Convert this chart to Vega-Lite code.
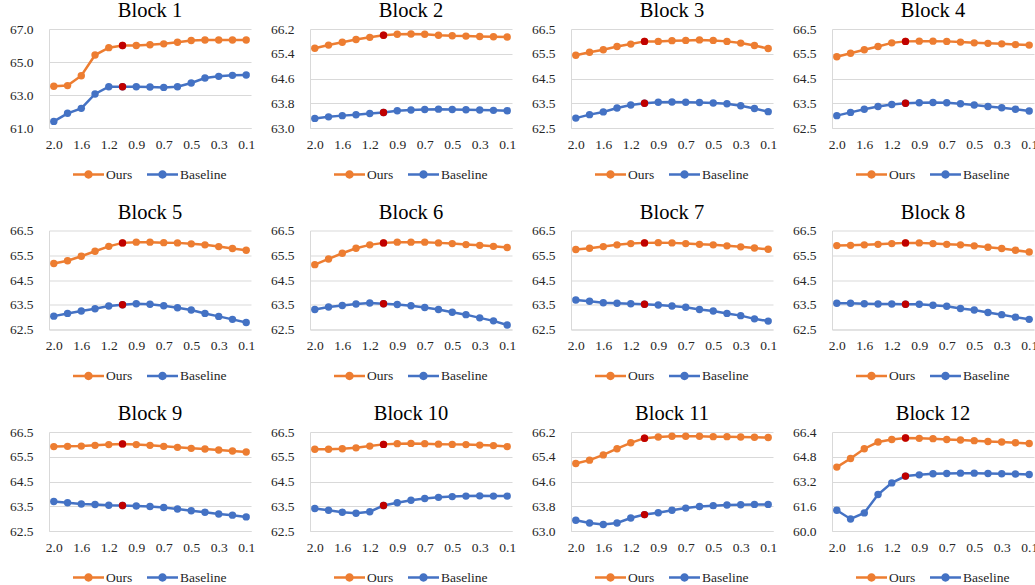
{
"$schema": "https://vega.github.io/schema/vega-lite/v6.json",
"padding": {"left": 9, "top": 1, "right": 0, "bottom": 0},
"background": "white",
"datasets": {"d": [
{"block":1,"x":"2.0","Ours":63.53,"Baseline":61.40},{"block":1,"x":"1.8","Ours":63.57,"Baseline":61.89},{"block":1,"x":"1.6","Ours":64.17,"Baseline":62.19},{"block":1,"x":"1.4","Ours":65.42,"Baseline":63.06},{"block":1,"x":"1.2","Ours":65.87,"Baseline":63.50},{"block":1,"x":"1.0","Ours":66.00,"Baseline":63.50},{"block":1,"x":"0.9","Ours":66.00,"Baseline":63.50},{"block":1,"x":"0.8","Ours":66.05,"Baseline":63.48},{"block":1,"x":"0.7","Ours":66.10,"Baseline":63.46},{"block":1,"x":"0.6","Ours":66.20,"Baseline":63.50},{"block":1,"x":"0.5","Ours":66.30,"Baseline":63.73},{"block":1,"x":"0.4","Ours":66.33,"Baseline":64.03},{"block":1,"x":"0.3","Ours":66.33,"Baseline":64.13},{"block":1,"x":"0.2","Ours":66.33,"Baseline":64.19},{"block":1,"x":"0.1","Ours":66.33,"Baseline":64.21},
{"block":2,"x":"2.0","Ours":65.58,"Baseline":63.31},{"block":2,"x":"1.8","Ours":65.68,"Baseline":63.36},{"block":2,"x":"1.6","Ours":65.77,"Baseline":63.40},{"block":2,"x":"1.4","Ours":65.86,"Baseline":63.43},{"block":2,"x":"1.2","Ours":65.93,"Baseline":63.47},{"block":2,"x":"1.0","Ours":66.00,"Baseline":63.50},{"block":2,"x":"0.9","Ours":66.03,"Baseline":63.56},{"block":2,"x":"0.8","Ours":66.04,"Baseline":63.58},{"block":2,"x":"0.7","Ours":66.03,"Baseline":63.60},{"block":2,"x":"0.6","Ours":66.00,"Baseline":63.61},{"block":2,"x":"0.5","Ours":65.98,"Baseline":63.60},{"block":2,"x":"0.4","Ours":65.97,"Baseline":63.59},{"block":2,"x":"0.3","Ours":65.96,"Baseline":63.58},{"block":2,"x":"0.2","Ours":65.95,"Baseline":63.57},{"block":2,"x":"0.1","Ours":65.94,"Baseline":63.56},
{"block":3,"x":"2.0","Ours":65.44,"Baseline":62.90},{"block":3,"x":"1.8","Ours":65.56,"Baseline":63.04},{"block":3,"x":"1.6","Ours":65.66,"Baseline":63.15},{"block":3,"x":"1.4","Ours":65.79,"Baseline":63.31},{"block":3,"x":"1.2","Ours":65.89,"Baseline":63.43},{"block":3,"x":"1.0","Ours":66.00,"Baseline":63.50},{"block":3,"x":"0.9","Ours":66.00,"Baseline":63.54},{"block":3,"x":"0.8","Ours":66.03,"Baseline":63.55},{"block":3,"x":"0.7","Ours":66.04,"Baseline":63.54},{"block":3,"x":"0.6","Ours":66.06,"Baseline":63.53},{"block":3,"x":"0.5","Ours":66.04,"Baseline":63.51},{"block":3,"x":"0.4","Ours":66.00,"Baseline":63.48},{"block":3,"x":"0.3","Ours":65.93,"Baseline":63.40},{"block":3,"x":"0.2","Ours":65.83,"Baseline":63.29},{"block":3,"x":"0.1","Ours":65.71,"Baseline":63.16},
{"block":4,"x":"2.0","Ours":65.38,"Baseline":63.00},{"block":4,"x":"1.8","Ours":65.52,"Baseline":63.13},{"block":4,"x":"1.6","Ours":65.66,"Baseline":63.26},{"block":4,"x":"1.4","Ours":65.79,"Baseline":63.37},{"block":4,"x":"1.2","Ours":65.94,"Baseline":63.45},{"block":4,"x":"1.0","Ours":66.00,"Baseline":63.50},{"block":4,"x":"0.9","Ours":66.01,"Baseline":63.52},{"block":4,"x":"0.8","Ours":66.01,"Baseline":63.53},{"block":4,"x":"0.7","Ours":66.00,"Baseline":63.52},{"block":4,"x":"0.6","Ours":65.97,"Baseline":63.48},{"block":4,"x":"0.5","Ours":65.94,"Baseline":63.43},{"block":4,"x":"0.4","Ours":65.92,"Baseline":63.37},{"block":4,"x":"0.3","Ours":65.90,"Baseline":63.32},{"block":4,"x":"0.2","Ours":65.87,"Baseline":63.26},{"block":4,"x":"0.1","Ours":65.85,"Baseline":63.19},
{"block":5,"x":"2.0","Ours":65.17,"Baseline":63.04},{"block":5,"x":"1.8","Ours":65.28,"Baseline":63.15},{"block":5,"x":"1.6","Ours":65.46,"Baseline":63.25},{"block":5,"x":"1.4","Ours":65.66,"Baseline":63.34},{"block":5,"x":"1.2","Ours":65.86,"Baseline":63.45},{"block":5,"x":"1.0","Ours":66.00,"Baseline":63.50},{"block":5,"x":"0.9","Ours":66.03,"Baseline":63.54},{"block":5,"x":"0.8","Ours":66.03,"Baseline":63.52},{"block":5,"x":"0.7","Ours":66.01,"Baseline":63.46},{"block":5,"x":"0.6","Ours":66.00,"Baseline":63.38},{"block":5,"x":"0.5","Ours":65.96,"Baseline":63.29},{"block":5,"x":"0.4","Ours":65.92,"Baseline":63.15},{"block":5,"x":"0.3","Ours":65.85,"Baseline":63.03},{"block":5,"x":"0.2","Ours":65.77,"Baseline":62.91},{"block":5,"x":"0.1","Ours":65.70,"Baseline":62.78},
{"block":6,"x":"2.0","Ours":65.12,"Baseline":63.31},{"block":6,"x":"1.8","Ours":65.35,"Baseline":63.41},{"block":6,"x":"1.6","Ours":65.58,"Baseline":63.47},{"block":6,"x":"1.4","Ours":65.78,"Baseline":63.53},{"block":6,"x":"1.2","Ours":65.92,"Baseline":63.57},{"block":6,"x":"1.0","Ours":66.00,"Baseline":63.54},{"block":6,"x":"0.9","Ours":66.03,"Baseline":63.51},{"block":6,"x":"0.8","Ours":66.03,"Baseline":63.46},{"block":6,"x":"0.7","Ours":66.03,"Baseline":63.39},{"block":6,"x":"0.6","Ours":66.00,"Baseline":63.31},{"block":6,"x":"0.5","Ours":65.97,"Baseline":63.20},{"block":6,"x":"0.4","Ours":65.93,"Baseline":63.10},{"block":6,"x":"0.3","Ours":65.90,"Baseline":62.97},{"block":6,"x":"0.2","Ours":65.86,"Baseline":62.85},{"block":6,"x":"0.1","Ours":65.81,"Baseline":62.68},
{"block":7,"x":"2.0","Ours":65.73,"Baseline":63.69},{"block":7,"x":"1.8","Ours":65.78,"Baseline":63.64},{"block":7,"x":"1.6","Ours":65.85,"Baseline":63.58},{"block":7,"x":"1.4","Ours":65.92,"Baseline":63.56},{"block":7,"x":"1.2","Ours":65.97,"Baseline":63.54},{"block":7,"x":"1.0","Ours":66.00,"Baseline":63.52},{"block":7,"x":"0.9","Ours":66.01,"Baseline":63.49},{"block":7,"x":"0.8","Ours":66.00,"Baseline":63.45},{"block":7,"x":"0.7","Ours":65.97,"Baseline":63.40},{"block":7,"x":"0.6","Ours":65.94,"Baseline":63.31},{"block":7,"x":"0.5","Ours":65.92,"Baseline":63.25},{"block":7,"x":"0.4","Ours":65.88,"Baseline":63.15},{"block":7,"x":"0.3","Ours":65.84,"Baseline":63.06},{"block":7,"x":"0.2","Ours":65.79,"Baseline":62.93},{"block":7,"x":"0.1","Ours":65.74,"Baseline":62.84},
{"block":8,"x":"2.0","Ours":65.89,"Baseline":63.56},{"block":8,"x":"1.8","Ours":65.90,"Baseline":63.56},{"block":8,"x":"1.6","Ours":65.92,"Baseline":63.54},{"block":8,"x":"1.4","Ours":65.94,"Baseline":63.53},{"block":8,"x":"1.2","Ours":65.97,"Baseline":63.53},{"block":8,"x":"1.0","Ours":66.00,"Baseline":63.52},{"block":8,"x":"0.9","Ours":66.00,"Baseline":63.52},{"block":8,"x":"0.8","Ours":65.97,"Baseline":63.48},{"block":8,"x":"0.7","Ours":65.94,"Baseline":63.44},{"block":8,"x":"0.6","Ours":65.92,"Baseline":63.35},{"block":8,"x":"0.5","Ours":65.88,"Baseline":63.29},{"block":8,"x":"0.4","Ours":65.82,"Baseline":63.19},{"block":8,"x":"0.3","Ours":65.77,"Baseline":63.10},{"block":8,"x":"0.2","Ours":65.70,"Baseline":63.00},{"block":8,"x":"0.1","Ours":65.63,"Baseline":62.91},
{"block":9,"x":"2.0","Ours":65.91,"Baseline":63.69},{"block":9,"x":"1.8","Ours":65.92,"Baseline":63.64},{"block":9,"x":"1.6","Ours":65.93,"Baseline":63.59},{"block":9,"x":"1.4","Ours":65.96,"Baseline":63.57},{"block":9,"x":"1.2","Ours":65.99,"Baseline":63.54},{"block":9,"x":"1.0","Ours":66.02,"Baseline":63.53},{"block":9,"x":"0.9","Ours":65.99,"Baseline":63.51},{"block":9,"x":"0.8","Ours":65.96,"Baseline":63.49},{"block":9,"x":"0.7","Ours":65.92,"Baseline":63.45},{"block":9,"x":"0.6","Ours":65.88,"Baseline":63.39},{"block":9,"x":"0.5","Ours":65.84,"Baseline":63.32},{"block":9,"x":"0.4","Ours":65.81,"Baseline":63.26},{"block":9,"x":"0.3","Ours":65.77,"Baseline":63.19},{"block":9,"x":"0.2","Ours":65.73,"Baseline":63.14},{"block":9,"x":"0.1","Ours":65.69,"Baseline":63.07},
{"block":10,"x":"2.0","Ours":65.80,"Baseline":63.41},{"block":10,"x":"1.8","Ours":65.80,"Baseline":63.34},{"block":10,"x":"1.6","Ours":65.82,"Baseline":63.26},{"block":10,"x":"1.4","Ours":65.86,"Baseline":63.22},{"block":10,"x":"1.2","Ours":65.93,"Baseline":63.28},{"block":10,"x":"1.0","Ours":66.00,"Baseline":63.53},{"block":10,"x":"0.9","Ours":66.03,"Baseline":63.64},{"block":10,"x":"0.8","Ours":66.04,"Baseline":63.74},{"block":10,"x":"0.7","Ours":66.03,"Baseline":63.81},{"block":10,"x":"0.6","Ours":66.01,"Baseline":63.86},{"block":10,"x":"0.5","Ours":66.00,"Baseline":63.89},{"block":10,"x":"0.4","Ours":65.99,"Baseline":63.91},{"block":10,"x":"0.3","Ours":65.97,"Baseline":63.92},{"block":10,"x":"0.2","Ours":65.95,"Baseline":63.91},{"block":10,"x":"0.1","Ours":65.91,"Baseline":63.91},
{"block":11,"x":"2.0","Ours":65.18,"Baseline":63.35},{"block":11,"x":"1.8","Ours":65.29,"Baseline":63.26},{"block":11,"x":"1.6","Ours":65.46,"Baseline":63.21},{"block":11,"x":"1.4","Ours":65.66,"Baseline":63.26},{"block":11,"x":"1.2","Ours":65.85,"Baseline":63.42},{"block":11,"x":"1.0","Ours":66.00,"Baseline":63.53},{"block":11,"x":"0.9","Ours":66.04,"Baseline":63.59},{"block":11,"x":"0.8","Ours":66.06,"Baseline":63.67},{"block":11,"x":"0.7","Ours":66.06,"Baseline":63.74},{"block":11,"x":"0.6","Ours":66.06,"Baseline":63.79},{"block":11,"x":"0.5","Ours":66.05,"Baseline":63.82},{"block":11,"x":"0.4","Ours":66.05,"Baseline":63.84},{"block":11,"x":"0.3","Ours":66.04,"Baseline":63.85},{"block":11,"x":"0.2","Ours":66.03,"Baseline":63.86},{"block":11,"x":"0.1","Ours":66.02,"Baseline":63.86},
{"block":12,"x":"2.0","Ours":64.13,"Baseline":61.34},{"block":12,"x":"1.8","Ours":64.69,"Baseline":60.78},{"block":12,"x":"1.6","Ours":65.32,"Baseline":61.17},{"block":12,"x":"1.4","Ours":65.75,"Baseline":62.36},{"block":12,"x":"1.2","Ours":65.92,"Baseline":63.11},{"block":12,"x":"1.0","Ours":66.01,"Baseline":63.55},{"block":12,"x":"0.9","Ours":65.99,"Baseline":63.63},{"block":12,"x":"0.8","Ours":65.97,"Baseline":63.70},{"block":12,"x":"0.7","Ours":65.92,"Baseline":63.72},{"block":12,"x":"0.6","Ours":65.88,"Baseline":63.74},{"block":12,"x":"0.5","Ours":65.84,"Baseline":63.74},{"block":12,"x":"0.4","Ours":65.79,"Baseline":63.72},{"block":12,"x":"0.3","Ours":65.75,"Baseline":63.70},{"block":12,"x":"0.2","Ours":65.71,"Baseline":63.68},{"block":12,"x":"0.1","Ours":65.66,"Baseline":63.65}
]},
"data": {"name": "d"},
"columns": 4,
"spacing": {"row": 21.5, "column": 15},
"resolve": {"scale": {"color": "independent", "y": "independent", "x": "independent"}},
"concat": [
{"title": "Block 1", "width": 202, "height": 99,
 "transform": [{"filter": "datum.block == 1"}, {"fold": ["Ours", "Baseline"], "as": ["series", "value"]}],
 "encoding": {
  "x": {"field": "x", "type": "ordinal", "scale": {"type": "point", "padding": 0.35, "domain": ["2.0","1.8","1.6","1.4","1.2","1.0","0.9","0.8","0.7","0.6","0.5","0.4","0.3","0.2","0.1"]}, "axis": {"values": ["2.0","1.6","1.2","0.9","0.7","0.5","0.3","0.1"], "title": null}},
  "y": {"field": "value", "type": "quantitative", "scale": {"domain": [61, 67], "nice": false, "zero": false}, "axis": {"values": [61, 63, 65, 67], "format": ".1f", "title": null}},
  "color": {"field": "series", "type": "nominal", "scale": {"domain": ["Ours", "Baseline"], "range": ["#ED7D31", "#4472C4"]}, "title": null}
 },
 "layer": [
  {"mark": {"type": "line", "strokeWidth": 2.5}},
  {"mark": {"type": "point", "filled": true, "size": 55, "opacity": 1}},
  {"transform": [{"filter": "datum.x == '1.0'"}], "mark": {"type": "point", "filled": true, "size": 55, "opacity": 1, "color": "#C00000"}, "encoding": {"color": {"value": "#C00000"}}}
 ]},
{"title": "Block 2", "width": 202, "height": 99,
 "transform": [{"filter": "datum.block == 2"}, {"fold": ["Ours", "Baseline"], "as": ["series", "value"]}],
 "encoding": {
  "x": {"field": "x", "type": "ordinal", "scale": {"type": "point", "padding": 0.35, "domain": ["2.0","1.8","1.6","1.4","1.2","1.0","0.9","0.8","0.7","0.6","0.5","0.4","0.3","0.2","0.1"]}, "axis": {"values": ["2.0","1.6","1.2","0.9","0.7","0.5","0.3","0.1"], "title": null}},
  "y": {"field": "value", "type": "quantitative", "scale": {"domain": [63, 66.2], "nice": false, "zero": false}, "axis": {"values": [63, 63.8, 64.6, 65.4, 66.2], "format": ".1f", "title": null}},
  "color": {"field": "series", "type": "nominal", "scale": {"domain": ["Ours", "Baseline"], "range": ["#ED7D31", "#4472C4"]}, "title": null}
 },
 "layer": [
  {"mark": {"type": "line", "strokeWidth": 2.5}},
  {"mark": {"type": "point", "filled": true, "size": 55, "opacity": 1}},
  {"transform": [{"filter": "datum.x == '1.0'"}], "mark": {"type": "point", "filled": true, "size": 55, "opacity": 1, "color": "#C00000"}, "encoding": {"color": {"value": "#C00000"}}}
 ]},
{"title": "Block 3", "width": 202, "height": 99,
 "transform": [{"filter": "datum.block == 3"}, {"fold": ["Ours", "Baseline"], "as": ["series", "value"]}],
 "encoding": {
  "x": {"field": "x", "type": "ordinal", "scale": {"type": "point", "padding": 0.35, "domain": ["2.0","1.8","1.6","1.4","1.2","1.0","0.9","0.8","0.7","0.6","0.5","0.4","0.3","0.2","0.1"]}, "axis": {"values": ["2.0","1.6","1.2","0.9","0.7","0.5","0.3","0.1"], "title": null}},
  "y": {"field": "value", "type": "quantitative", "scale": {"domain": [62.5, 66.5], "nice": false, "zero": false}, "axis": {"values": [62.5, 63.5, 64.5, 65.5, 66.5], "format": ".1f", "title": null}},
  "color": {"field": "series", "type": "nominal", "scale": {"domain": ["Ours", "Baseline"], "range": ["#ED7D31", "#4472C4"]}, "title": null}
 },
 "layer": [
  {"mark": {"type": "line", "strokeWidth": 2.5}},
  {"mark": {"type": "point", "filled": true, "size": 55, "opacity": 1}},
  {"transform": [{"filter": "datum.x == '1.0'"}], "mark": {"type": "point", "filled": true, "size": 55, "opacity": 1, "color": "#C00000"}, "encoding": {"color": {"value": "#C00000"}}}
 ]},
{"title": "Block 4", "width": 202, "height": 99,
 "transform": [{"filter": "datum.block == 4"}, {"fold": ["Ours", "Baseline"], "as": ["series", "value"]}],
 "encoding": {
  "x": {"field": "x", "type": "ordinal", "scale": {"type": "point", "padding": 0.35, "domain": ["2.0","1.8","1.6","1.4","1.2","1.0","0.9","0.8","0.7","0.6","0.5","0.4","0.3","0.2","0.1"]}, "axis": {"values": ["2.0","1.6","1.2","0.9","0.7","0.5","0.3","0.1"], "title": null}},
  "y": {"field": "value", "type": "quantitative", "scale": {"domain": [62.5, 66.5], "nice": false, "zero": false}, "axis": {"values": [62.5, 63.5, 64.5, 65.5, 66.5], "format": ".1f", "title": null}},
  "color": {"field": "series", "type": "nominal", "scale": {"domain": ["Ours", "Baseline"], "range": ["#ED7D31", "#4472C4"]}, "title": null}
 },
 "layer": [
  {"mark": {"type": "line", "strokeWidth": 2.5}},
  {"mark": {"type": "point", "filled": true, "size": 55, "opacity": 1}},
  {"transform": [{"filter": "datum.x == '1.0'"}], "mark": {"type": "point", "filled": true, "size": 55, "opacity": 1, "color": "#C00000"}, "encoding": {"color": {"value": "#C00000"}}}
 ]},
{"title": "Block 5", "width": 202, "height": 99,
 "transform": [{"filter": "datum.block == 5"}, {"fold": ["Ours", "Baseline"], "as": ["series", "value"]}],
 "encoding": {
  "x": {"field": "x", "type": "ordinal", "scale": {"type": "point", "padding": 0.35, "domain": ["2.0","1.8","1.6","1.4","1.2","1.0","0.9","0.8","0.7","0.6","0.5","0.4","0.3","0.2","0.1"]}, "axis": {"values": ["2.0","1.6","1.2","0.9","0.7","0.5","0.3","0.1"], "title": null}},
  "y": {"field": "value", "type": "quantitative", "scale": {"domain": [62.5, 66.5], "nice": false, "zero": false}, "axis": {"values": [62.5, 63.5, 64.5, 65.5, 66.5], "format": ".1f", "title": null}},
  "color": {"field": "series", "type": "nominal", "scale": {"domain": ["Ours", "Baseline"], "range": ["#ED7D31", "#4472C4"]}, "title": null}
 },
 "layer": [
  {"mark": {"type": "line", "strokeWidth": 2.5}},
  {"mark": {"type": "point", "filled": true, "size": 55, "opacity": 1}},
  {"transform": [{"filter": "datum.x == '1.0'"}], "mark": {"type": "point", "filled": true, "size": 55, "opacity": 1, "color": "#C00000"}, "encoding": {"color": {"value": "#C00000"}}}
 ]},
{"title": "Block 6", "width": 202, "height": 99,
 "transform": [{"filter": "datum.block == 6"}, {"fold": ["Ours", "Baseline"], "as": ["series", "value"]}],
 "encoding": {
  "x": {"field": "x", "type": "ordinal", "scale": {"type": "point", "padding": 0.35, "domain": ["2.0","1.8","1.6","1.4","1.2","1.0","0.9","0.8","0.7","0.6","0.5","0.4","0.3","0.2","0.1"]}, "axis": {"values": ["2.0","1.6","1.2","0.9","0.7","0.5","0.3","0.1"], "title": null}},
  "y": {"field": "value", "type": "quantitative", "scale": {"domain": [62.5, 66.5], "nice": false, "zero": false}, "axis": {"values": [62.5, 63.5, 64.5, 65.5, 66.5], "format": ".1f", "title": null}},
  "color": {"field": "series", "type": "nominal", "scale": {"domain": ["Ours", "Baseline"], "range": ["#ED7D31", "#4472C4"]}, "title": null}
 },
 "layer": [
  {"mark": {"type": "line", "strokeWidth": 2.5}},
  {"mark": {"type": "point", "filled": true, "size": 55, "opacity": 1}},
  {"transform": [{"filter": "datum.x == '1.0'"}], "mark": {"type": "point", "filled": true, "size": 55, "opacity": 1, "color": "#C00000"}, "encoding": {"color": {"value": "#C00000"}}}
 ]},
{"title": "Block 7", "width": 202, "height": 99,
 "transform": [{"filter": "datum.block == 7"}, {"fold": ["Ours", "Baseline"], "as": ["series", "value"]}],
 "encoding": {
  "x": {"field": "x", "type": "ordinal", "scale": {"type": "point", "padding": 0.35, "domain": ["2.0","1.8","1.6","1.4","1.2","1.0","0.9","0.8","0.7","0.6","0.5","0.4","0.3","0.2","0.1"]}, "axis": {"values": ["2.0","1.6","1.2","0.9","0.7","0.5","0.3","0.1"], "title": null}},
  "y": {"field": "value", "type": "quantitative", "scale": {"domain": [62.5, 66.5], "nice": false, "zero": false}, "axis": {"values": [62.5, 63.5, 64.5, 65.5, 66.5], "format": ".1f", "title": null}},
  "color": {"field": "series", "type": "nominal", "scale": {"domain": ["Ours", "Baseline"], "range": ["#ED7D31", "#4472C4"]}, "title": null}
 },
 "layer": [
  {"mark": {"type": "line", "strokeWidth": 2.5}},
  {"mark": {"type": "point", "filled": true, "size": 55, "opacity": 1}},
  {"transform": [{"filter": "datum.x == '1.0'"}], "mark": {"type": "point", "filled": true, "size": 55, "opacity": 1, "color": "#C00000"}, "encoding": {"color": {"value": "#C00000"}}}
 ]},
{"title": "Block 8", "width": 202, "height": 99,
 "transform": [{"filter": "datum.block == 8"}, {"fold": ["Ours", "Baseline"], "as": ["series", "value"]}],
 "encoding": {
  "x": {"field": "x", "type": "ordinal", "scale": {"type": "point", "padding": 0.35, "domain": ["2.0","1.8","1.6","1.4","1.2","1.0","0.9","0.8","0.7","0.6","0.5","0.4","0.3","0.2","0.1"]}, "axis": {"values": ["2.0","1.6","1.2","0.9","0.7","0.5","0.3","0.1"], "title": null}},
  "y": {"field": "value", "type": "quantitative", "scale": {"domain": [62.5, 66.5], "nice": false, "zero": false}, "axis": {"values": [62.5, 63.5, 64.5, 65.5, 66.5], "format": ".1f", "title": null}},
  "color": {"field": "series", "type": "nominal", "scale": {"domain": ["Ours", "Baseline"], "range": ["#ED7D31", "#4472C4"]}, "title": null}
 },
 "layer": [
  {"mark": {"type": "line", "strokeWidth": 2.5}},
  {"mark": {"type": "point", "filled": true, "size": 55, "opacity": 1}},
  {"transform": [{"filter": "datum.x == '1.0'"}], "mark": {"type": "point", "filled": true, "size": 55, "opacity": 1, "color": "#C00000"}, "encoding": {"color": {"value": "#C00000"}}}
 ]},
{"title": "Block 9", "width": 202, "height": 99,
 "transform": [{"filter": "datum.block == 9"}, {"fold": ["Ours", "Baseline"], "as": ["series", "value"]}],
 "encoding": {
  "x": {"field": "x", "type": "ordinal", "scale": {"type": "point", "padding": 0.35, "domain": ["2.0","1.8","1.6","1.4","1.2","1.0","0.9","0.8","0.7","0.6","0.5","0.4","0.3","0.2","0.1"]}, "axis": {"values": ["2.0","1.6","1.2","0.9","0.7","0.5","0.3","0.1"], "title": null}},
  "y": {"field": "value", "type": "quantitative", "scale": {"domain": [62.5, 66.5], "nice": false, "zero": false}, "axis": {"values": [62.5, 63.5, 64.5, 65.5, 66.5], "format": ".1f", "title": null}},
  "color": {"field": "series", "type": "nominal", "scale": {"domain": ["Ours", "Baseline"], "range": ["#ED7D31", "#4472C4"]}, "title": null}
 },
 "layer": [
  {"mark": {"type": "line", "strokeWidth": 2.5}},
  {"mark": {"type": "point", "filled": true, "size": 55, "opacity": 1}},
  {"transform": [{"filter": "datum.x == '1.0'"}], "mark": {"type": "point", "filled": true, "size": 55, "opacity": 1, "color": "#C00000"}, "encoding": {"color": {"value": "#C00000"}}}
 ]},
{"title": "Block 10", "width": 202, "height": 99,
 "transform": [{"filter": "datum.block == 10"}, {"fold": ["Ours", "Baseline"], "as": ["series", "value"]}],
 "encoding": {
  "x": {"field": "x", "type": "ordinal", "scale": {"type": "point", "padding": 0.35, "domain": ["2.0","1.8","1.6","1.4","1.2","1.0","0.9","0.8","0.7","0.6","0.5","0.4","0.3","0.2","0.1"]}, "axis": {"values": ["2.0","1.6","1.2","0.9","0.7","0.5","0.3","0.1"], "title": null}},
  "y": {"field": "value", "type": "quantitative", "scale": {"domain": [62.5, 66.5], "nice": false, "zero": false}, "axis": {"values": [62.5, 63.5, 64.5, 65.5, 66.5], "format": ".1f", "title": null}},
  "color": {"field": "series", "type": "nominal", "scale": {"domain": ["Ours", "Baseline"], "range": ["#ED7D31", "#4472C4"]}, "title": null}
 },
 "layer": [
  {"mark": {"type": "line", "strokeWidth": 2.5}},
  {"mark": {"type": "point", "filled": true, "size": 55, "opacity": 1}},
  {"transform": [{"filter": "datum.x == '1.0'"}], "mark": {"type": "point", "filled": true, "size": 55, "opacity": 1, "color": "#C00000"}, "encoding": {"color": {"value": "#C00000"}}}
 ]},
{"title": "Block 11", "width": 202, "height": 99,
 "transform": [{"filter": "datum.block == 11"}, {"fold": ["Ours", "Baseline"], "as": ["series", "value"]}],
 "encoding": {
  "x": {"field": "x", "type": "ordinal", "scale": {"type": "point", "padding": 0.35, "domain": ["2.0","1.8","1.6","1.4","1.2","1.0","0.9","0.8","0.7","0.6","0.5","0.4","0.3","0.2","0.1"]}, "axis": {"values": ["2.0","1.6","1.2","0.9","0.7","0.5","0.3","0.1"], "title": null}},
  "y": {"field": "value", "type": "quantitative", "scale": {"domain": [63, 66.2], "nice": false, "zero": false}, "axis": {"values": [63, 63.8, 64.6, 65.4, 66.2], "format": ".1f", "title": null}},
  "color": {"field": "series", "type": "nominal", "scale": {"domain": ["Ours", "Baseline"], "range": ["#ED7D31", "#4472C4"]}, "title": null}
 },
 "layer": [
  {"mark": {"type": "line", "strokeWidth": 2.5}},
  {"mark": {"type": "point", "filled": true, "size": 55, "opacity": 1}},
  {"transform": [{"filter": "datum.x == '1.0'"}], "mark": {"type": "point", "filled": true, "size": 55, "opacity": 1, "color": "#C00000"}, "encoding": {"color": {"value": "#C00000"}}}
 ]},
{"title": "Block 12", "width": 202, "height": 99,
 "transform": [{"filter": "datum.block == 12"}, {"fold": ["Ours", "Baseline"], "as": ["series", "value"]}],
 "encoding": {
  "x": {"field": "x", "type": "ordinal", "scale": {"type": "point", "padding": 0.35, "domain": ["2.0","1.8","1.6","1.4","1.2","1.0","0.9","0.8","0.7","0.6","0.5","0.4","0.3","0.2","0.1"]}, "axis": {"values": ["2.0","1.6","1.2","0.9","0.7","0.5","0.3","0.1"], "title": null}},
  "y": {"field": "value", "type": "quantitative", "scale": {"domain": [60, 66.4], "nice": false, "zero": false}, "axis": {"values": [60, 61.6, 63.2, 64.8, 66.4], "format": ".1f", "title": null}},
  "color": {"field": "series", "type": "nominal", "scale": {"domain": ["Ours", "Baseline"], "range": ["#ED7D31", "#4472C4"]}, "title": null}
 },
 "layer": [
  {"mark": {"type": "line", "strokeWidth": 2.5}},
  {"mark": {"type": "point", "filled": true, "size": 55, "opacity": 1}},
  {"transform": [{"filter": "datum.x == '1.0'"}], "mark": {"type": "point", "filled": true, "size": 55, "opacity": 1, "color": "#C00000"}, "encoding": {"color": {"value": "#C00000"}}}
 ]}
],
"config": {
 "font": "Liberation Serif",
 "view": {"stroke": null},
 "style": {"guide-label": {"font": "Liberation Serif", "fontSize": 13.5, "fill": "#262626"}, "group-title": {"font": "Liberation Serif", "fontSize": 20.5, "fontWeight": "normal"}},
 "title": {"font": "Liberation Serif", "fontSize": 20.5, "fontWeight": "normal", "color": "#000000", "offset": 0.1},
 "axis": {"labelFont": "Liberation Serif", "labelFontSize": 13.5, "labelColor": "#262626", "ticks": false, "domainColor": "#d9d9d9", "gridColor": "#d9d9d9", "gridWidth": 1},
 "axisX": {"grid": false, "labelAngle": 0, "labelPadding": 9},
 "axisY": {"grid": true, "domain": true, "labelPadding": 16},
 "legend": {"orient": "bottom", "direction": "horizontal", "labelFont": "Liberation Serif", "labelFontSize": 13.5, "labelColor": "#262626", "symbolType": "M-1,-0.08L1,-0.08L1,0.08L-1,0.08ZM-0.27,0A0.27,0.27,0,1,1,0.27,0A0.27,0.27,0,1,1,-0.27,0Z", "symbolSize": 961, "symbolStrokeWidth": 0, "symbolOpacity": 1, "labelOffset": 2, "columnPadding": 14, "offset": 8, "padding": 0, "layout": {"bottom": {"anchor": "middle"}}}
}
}
